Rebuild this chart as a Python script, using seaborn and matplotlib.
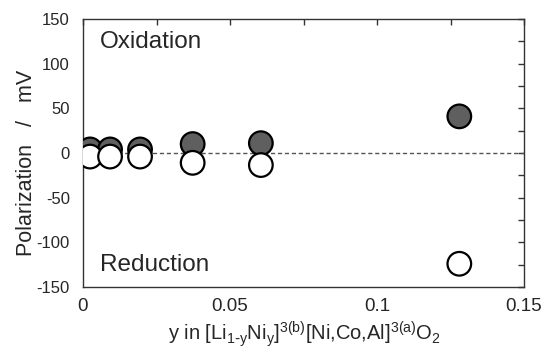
import matplotlib
matplotlib.use("Agg")
import matplotlib.pyplot as plt
import seaborn as sns
import pandas as pd
from matplotlib.ticker import MultipleLocator, FuncFormatter

y_frac = [0.0024, 0.0092, 0.0194, 0.0373, 0.0605, 0.128]
oxidation = [4, 4, 4, 10, 11, 41]
reduction = [-4, -4, -4, -11, -13.5, -124]

df = pd.DataFrame({
    "y": y_frac * 2,
    "pol": oxidation + reduction,
    "kind": ["Oxidation"] * len(y_frac) + ["Reduction"] * len(y_frac),
})

sns.set_theme(style="white")
plt.rcParams["font.family"] = ["Liberation Sans", "DejaVu Sans"]
plt.rcParams["mathtext.default"] = "regular"
plt.rcParams["axes.unicode_minus"] = False

fig = plt.figure(figsize=(5.44, 3.5), dpi=100)
ax = fig.add_axes([83/544, 1-287/350, (524-83)/544, (287-19)/350])

ax.axhline(0, color="#555555", lw=1, ls=(0, (3, 2)), zorder=1)
sns.scatterplot(data=df, x="y", y="pol", hue="kind",
                palette={"Oxidation": "#5f5f5f", "Reduction": "white"},
                s=17**2, edgecolor="black", linewidth=1.6, legend=False,
                ax=ax, zorder=3)

ax.set_xlim(0, 0.15)
ax.set_ylim(-150, 150)
ax.xaxis.set_major_locator(MultipleLocator(0.05))
ax.xaxis.set_minor_locator(MultipleLocator(0.025))
ax.yaxis.set_major_locator(MultipleLocator(50))
ax.yaxis.set_minor_locator(MultipleLocator(25))
ax.xaxis.set_major_formatter(FuncFormatter(lambda v, p: "0" if abs(v) < 1e-9 else f"{v:g}"))
ax.tick_params(which="both", direction="in", top=True, right=True,
               color="#333333", length=4, width=1)
ax.tick_params(axis="x", which="both", pad=8, labelsize=13.5)
ax.tick_params(axis="y", which="both", pad=9.5, labelsize=12)
for s in ax.spines.values():
    s.set_color("#333333")
    s.set_linewidth(1)

ax.set_xlabel(r"y in [Li$_{1\text{-}y}$Ni$_y$]$^{3(b)}$[Ni,Co,Al]$^{3(a)}$O$_2$", fontsize=14.5)
ax.set_ylabel("Polarization   /   mV", fontsize=15.5)
ax.xaxis.set_label_coords(0.502, -0.122)
ax.yaxis.set_label_coords(-0.105, 0.463)

ax.text(0.038, 0.914, "Oxidation", transform=ax.transAxes, fontsize=17.5, va="center", ha="left")
ax.text(0.038, 0.082, "Reduction", transform=ax.transAxes, fontsize=17.5, va="center", ha="left")

fig.savefig("out.png", dpi=100)
